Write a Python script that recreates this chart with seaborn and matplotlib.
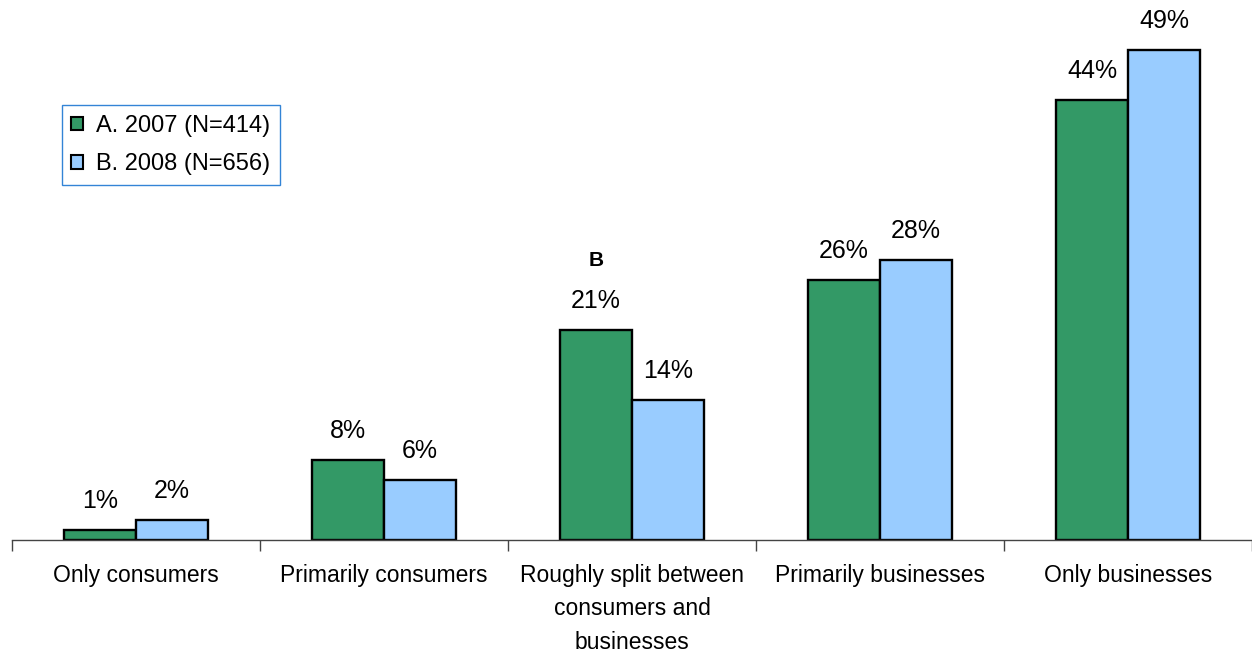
import matplotlib
matplotlib.use("Agg")
import matplotlib.pyplot as plt
import seaborn as sns
import pandas as pd

categories = ["Only consumers", "Primarily consumers",
              "Roughly split between\nconsumers and\nbusinesses",
              "Primarily businesses", "Only businesses"]
series = ["A. 2007 (N=414)", "B. 2008 (N=656)"]
values_2007 = [1, 8, 21, 26, 44]
values_2008 = [2, 6, 14, 28, 49]
sig_marks = ["", "", "B", "", ""]
colors = ["#339966", "#99CCFF"]

df = pd.DataFrame({
    "category": categories * 2,
    "series": [series[0]] * 5 + [series[1]] * 5,
    "value": values_2007 + values_2008,
})

sns.set_theme(style="white")
plt.rcParams["font.family"] = ["Liberation Sans", "DejaVu Sans"]
plt.rcParams["text.color"] = "black"
plt.rcParams["xtick.color"] = "black"

fig = plt.figure(figsize=(12.52, 6.58), dpi=100)
ax = fig.add_axes([12 / 1252, 118 / 658, 1240 / 1252, 540 / 658])

sns.barplot(data=df, x="category", y="value", hue="series", order=categories,
            hue_order=series, palette=colors, width=0.58, edgecolor="black",
            linewidth=1.7, ax=ax, saturation=1)

ax.set_xlim(-0.5, 4.5)
ax.set_ylim(0, 54)
ax.set_xlabel("")
ax.set_ylabel("")
ax.set_yticks([])
for s in ["top", "right", "left"]:
    ax.spines[s].set_visible(False)
ax.spines["bottom"].set_color("#444444")
ax.spines["bottom"].set_linewidth(1.0)

ax.set_xticks(range(5))
ax.set_xticklabels(categories, fontsize=16.5, linespacing=1.6, va="top",
                   color="black")
ax.tick_params(axis="x", which="major", length=0, pad=17)
ax.set_xticks([i - 0.5 for i in range(6)], minor=True)
ax.tick_params(axis="x", which="minor", length=8, width=1, color="#444444",
               direction="out", bottom=True)

# value labels above each bar
for cont in ax.containers:
    ax.bar_label(cont, labels=[f"{v:.0f}%" for v in cont.datavalues],
                 padding=12, fontsize=18, color="black")

# significance marker above the 2007 bars
for i, (mark, v) in enumerate(zip(sig_marks, values_2007)):
    if mark:
        ax.annotate(mark, (i - 0.145, v), xytext=(0, 50), textcoords="offset points",
                    ha="center", va="center", fontsize=15, fontweight="bold",
                    color="black")

leg = ax.legend(loc="upper left", bbox_to_anchor=(0.0403, 0.805), fontsize=17,
                frameon=True, fancybox=False, handlelength=0.5, handleheight=0.5,
                handletextpad=0.55, borderpad=0.4, labelspacing=0.7,
                borderaxespad=0)
leg.get_frame().set_edgecolor("#0066CC")
leg.get_frame().set_linewidth(1.0)
for t in leg.get_texts():
    t.set_color("black")
for h in leg.legend_handles:
    h.set_edgecolor("black")
    h.set_linewidth(1.5)

fig.savefig("out.png", dpi=100)
